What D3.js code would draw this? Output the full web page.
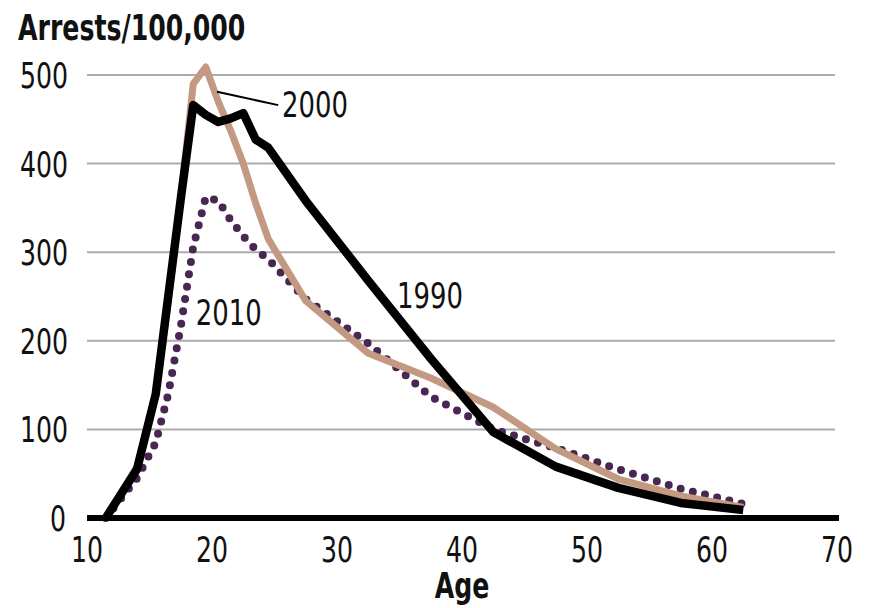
<!DOCTYPE html>
<html>
<head>
<meta charset="utf-8">
<script src="https://cdn.jsdelivr.net/npm/d3@7"></script>
<style>
  html, body { margin: 0; padding: 0; background: #fff; }
  svg text { font-family: "Liberation Sans Narrow", "DejaVu Sans Condensed", "Roboto Condensed", sans-serif; fill: #111; }
</style>
</head>
<body>
<svg id="chart" width="869" height="608"></svg>
<script>
// ---- data ----
const ages = [11.5, 14, 15.5, 16.5, 17.5, 18.5, 19.5, 20.5, 21.5, 22.5, 23.5, 24.5, 27.5, 32.5, 37.5, 42.5, 47.5, 52.5, 57.5, 62.5];
const rate1990 = [0, 55, 140, 250, 360, 466, 455, 447, 451, 457, 427, 418, 358, 268, 180, 97, 58, 34, 17, 9];
const rate2000 = [0, 58, 140, 245, 360, 490, 509, 470, 437, 400, 355, 315, 245, 186, 158, 125, 78, 44, 25, 12];
const rate2010 = [0, 45, 85, 140, 216, 306, 362, 358, 336, 318, 303, 292, 247, 197, 137, 100, 79, 55, 33, 16];
const xTicks = [10, 20, 30, 40, 50, 60, 70];
const yTicks = [0, 100, 200, 300, 400, 500];
const seriesNames = ["1990", "2000", "2010"];
const labelAges = [34.8, 25.6, 18.7];
const labelRates = [237, 453, 218];
const leaderAges = [20.4, 25.3];
const leaderRates = [481, 466];
const titleText = "Arrests/100,000";
const xTitle = "Age";

const SX = 0.8; // horizontal condensing of text

// ---- scales ----
const svg = d3.select("#chart");
const x = d3.scaleLinear().domain([10, 70]).range([87, 837]);
const y = d3.scaleLinear().domain([0, 500]).range([518, 75]);

function placeText(sel, fx, fy) {
  return sel.attr("x", 0).attr("y", 0)
    .attr("transform", (d, i) => `translate(${fx(d, i)},${fy(d, i)}) scale(${SX},1)`);
}

// gridlines
svg.append("g").selectAll("line").data(yTicks.filter(d => d > 0)).join("line")
  .attr("x1", x(10)).attr("x2", x(70) - 2)
  .attr("y1", d => y(d)).attr("y2", d => y(d))
  .attr("stroke", "#ababab").attr("stroke-width", 2);

// y tick labels
placeText(svg.append("g").selectAll("text").data(yTicks).join("text"),
    d => d === 0 ? 66 : 68, d => y(d) + 13)
  .attr("text-anchor", "end")
  .attr("font-size", 35)
  .text(d => d);

// x tick labels
placeText(svg.append("g").selectAll("text").data(xTicks).join("text"),
    d => x(d), () => 562)
  .attr("text-anchor", "middle")
  .attr("font-size", 35)
  .text(d => d);

// titles
placeText(svg.append("text").datum(titleText), () => 18, () => 40)
  .attr("font-size", 35).attr("font-weight", "bold").text(titleText);
placeText(svg.append("text").datum(xTitle), () => x(40), () => 598)
  .attr("text-anchor", "middle").attr("font-size", 35).attr("font-weight", "bold").text(xTitle);

// lines
const line = d3.line().x(d => x(d[0])).y(d => y(d[1])).curve(d3.curveLinear);
const pts = arr => ages.map((a, i) => [a, arr[i]]);

svg.append("path").datum(pts(rate2010)).attr("d", line)
  .attr("fill", "none").attr("stroke", "#4a2752").attr("stroke-width", 8)
  .attr("stroke-linecap", "round").attr("stroke-dasharray", "0 12.5");

svg.append("path").datum(pts(rate2000)).attr("d", line)
  .attr("fill", "none").attr("stroke", "#c39a81").attr("stroke-width", 7)
  .attr("stroke-linejoin", "round");

svg.append("path").datum(pts(rate1990)).attr("d", line)
  .attr("fill", "none").attr("stroke", "#000").attr("stroke-width", 8.5)
  .attr("stroke-linejoin", "round");

// x axis line
svg.append("line").attr("x1", x(10)).attr("x2", x(70) + 2)
  .attr("y1", y(0)).attr("y2", y(0))
  .attr("stroke", "#000").attr("stroke-width", 6);

// leader line for 2000
svg.append("line")
  .attr("x1", x(leaderAges[0])).attr("y1", y(leaderRates[0]))
  .attr("x2", x(leaderAges[1])).attr("y2", y(leaderRates[1]))
  .attr("stroke", "#000").attr("stroke-width", 2);

// series labels
placeText(svg.append("g").selectAll("text").data(seriesNames).join("text"),
    (d, i) => x(labelAges[i]), (d, i) => y(labelRates[i]))
  .attr("font-size", 36)
  .text(d => d);
</script>
</body>
</html>
